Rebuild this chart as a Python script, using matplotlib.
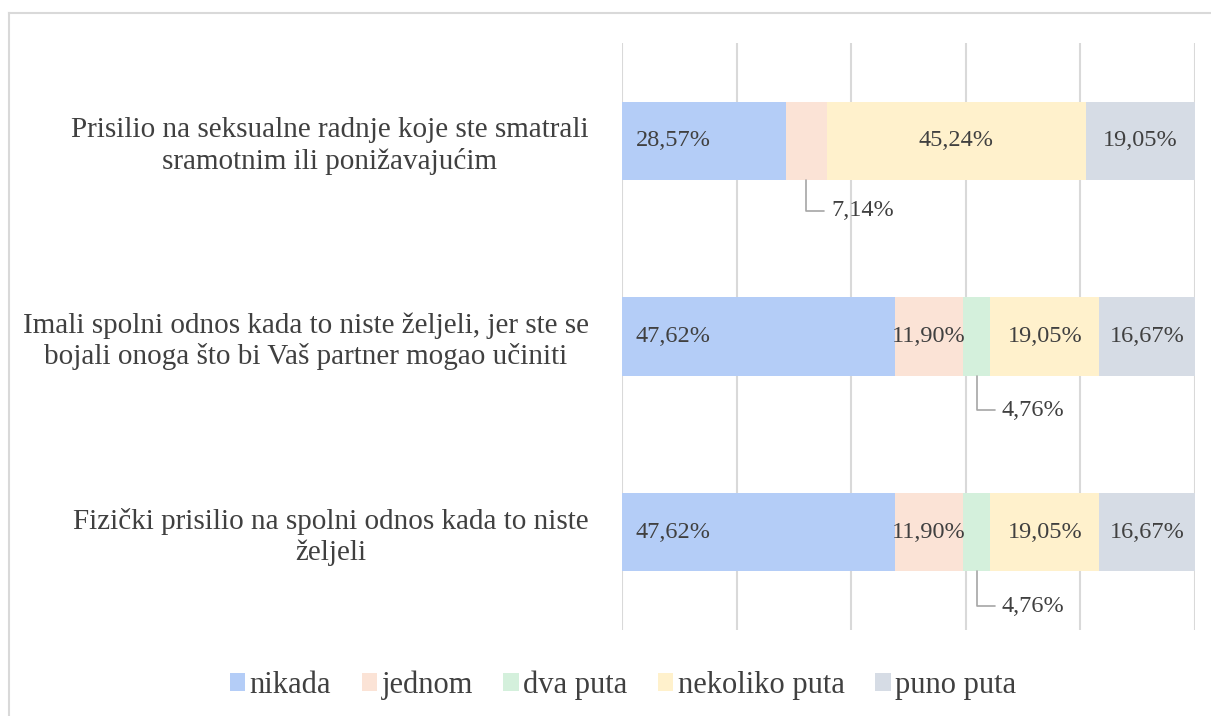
import matplotlib.pyplot as plt
from matplotlib.patches import Patch
from matplotlib.lines import Line2D

# categories (top to bottom) and series values in %
categories = [
    "Prisilio na seksualne radnje koje ste smatrali\nsramotnim ili ponižavajućim",
    "Imali spolni odnos kada to niste željeli, jer ste se\nbojali onoga što bi Vaš partner mogao učiniti",
    "Fizički prisilio na spolni odnos kada to niste\nželjeli",
]
series = ["nikada", "jednom", "dva puta", "nekoliko puta", "puno puta"]
nikada = [28.57, 47.62, 47.62]
jednom = [7.14, 11.90, 11.90]
dva_puta = [0.0, 4.76, 4.76]
nekoliko_puta = [45.24, 19.05, 19.05]
puno_puta = [19.05, 16.67, 16.67]

colors = ["#B4CDF7", "#FBE3D6", "#D4F0DC", "#FFF1CC", "#D6DCE5"]
text_color = "#404040"

plt.rcParams['font.family'] = ['Liberation Serif', 'DejaVu Serif']

fig = plt.figure(figsize=(12.11, 7.16), dpi=100)
ax = fig.add_axes([622 / 1211, 1 - 630 / 716, (1195 - 622) / 1211, (630 - 43) / 716])

values = [nikada, jednom, dva_puta, nekoliko_puta, puno_puta]
ypos = list(range(len(categories)))
left = [0.0] * len(categories)
for s, (name, vals) in enumerate(zip(series, values)):
    ax.barh(ypos, vals, left=left, height=0.4, color=colors[s], label=name, zorder=2)
    for i, v in enumerate(vals):
        if v <= 0:
            continue
        label = f"{v:.2f}%".replace(".", ",")
        if s == 0:
            ax.text(2.4, i, label, ha='left', va='center', fontsize=17.5, color=text_color, zorder=3)
        elif v < 10:
            # small segment: callout below the bar
            off = -22 if i == 0 else -25
            ax.annotate(label, xy=(left[i] + v / 2, i + 0.2), xytext=(18, off),
                        textcoords='offset points', ha='left', va='center',
                        fontsize=17.5, color=text_color, zorder=3,
                        arrowprops=dict(arrowstyle='-', color='#A6A6A6', lw=1.2,
                                        connectionstyle='angle,angleA=0,angleB=90,rad=0',
                                        shrinkA=3, shrinkB=0, relpos=(0, 0.5)))
        else:
            ax.text(left[i] + v / 2, i, label, ha='center', va='center',
                    fontsize=17.5, color=text_color, zorder=3)
        left[i] += v

ax.set_xlim(0, 100)
ax.set_ylim(2.5, -0.5)
ax.set_xticks([0, 20, 40, 60, 80, 100])
ax.set_xticklabels([])
ax.tick_params(axis='x', length=0)
ax.grid(axis='x', color='#D9D9D9', lw=1.5, zorder=0)
ax.set_yticks(ypos)
ax.set_yticklabels(categories, fontsize=21, color=text_color, multialignment='center',
                   linespacing=1.2)
ax.tick_params(axis='y', length=0, pad=24)
for sp in ax.spines.values():
    sp.set_visible(False)

handles = [Patch(facecolor=c, edgecolor='none', label=n) for c, n in zip(colors, series)]
leg = fig.legend(handles=handles, loc='center', bbox_to_anchor=(623 / 1211, 1 - 685 / 716),
                 ncol=5, frameon=False, fontsize=22, handlelength=0.5, handleheight=0.5,
                 handletextpad=0.15, columnspacing=1.0)
for t in leg.get_texts():
    t.set_color(text_color)

# chart border (left and top edges visible in the reference)
fig.add_artist(Line2D([9 / 1211, 9 / 1211], [0, 1 - 13 / 716], color='#D9D9D9', lw=1.5))
fig.add_artist(Line2D([9 / 1211, 1], [1 - 13 / 716, 1 - 13 / 716], color='#D9D9D9', lw=1.5))

fig.savefig("out.png", dpi=100)
